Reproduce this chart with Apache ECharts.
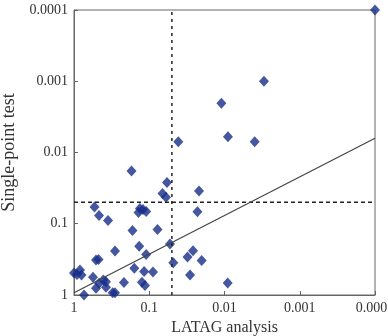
<!DOCTYPE html>
<html><head><meta charset="utf-8">
<script src="https://cdn.jsdelivr.net/npm/echarts@6/dist/echarts.min.js"></script>
<style>html,body{margin:0;padding:0;background:#fff}#c{width:388px;height:336px}</style>
</head><body><div id="c"></div>
<script>
// LATAG analysis p-values (x) and single-point test p-values (y)
const latagP = [0.0001,0.00299,0.0110,0.0090,0.00397,0.0411,0.172,0.0581,0.0667,0.0599,
  0.0218,0.0229,0.534,0.465,0.353,0.133,0.121,0.139,0.110,0.167,
  0.0777,0.285,0.136,0.110,0.053,0.0479,0.510,0.472,0.158,0.117,
  0.0892,0.031,0.0262,0.0201,0.0287,0.00907,1.0,0.832,0.795,0.912,
  0.559,0.408,0.376,0.465,0.217,0.125,0.114,0.510,0.376,0.306,
  0.285,0.736];
const singlePointP = [0.0001,0.001,0.00204,0.0060,0.00705,0.00705,0.0182,0.0264,0.0376,0.0426,
  0.0347,0.0678,0.0582,0.0766,0.090,0.0611,0.0631,0.0695,0.0673,0.124,
  0.120,0.241,0.207,0.270,0.192,0.352,0.323,0.318,0.422,0.468,
  0.475,0.293,0.239,0.328,0.524,0.679,0.491,0.446,0.524,0.515,
  0.565,0.616,0.650,0.685,0.668,0.663,0.736,0.805,0.780,0.929,
  0.929,1.0];
// regression line end points
const fitX = [1, 0.0001];
const fitY = [0.93, 0.0063];
// threshold (dashed) lines
const threshold = 0.05;
const axisMin = 0.0001, axisMax = 1;
const tickValues = [1, 0.1, 0.01, 0.001, 0.0001];
const tickLabels = ['1', '0.1', '0.01', '0.001', '0.0001'];

function fmt(v){
  let best = 0, bd = Infinity;
  tickValues.forEach((t,i)=>{const d=Math.abs(Math.log10(v)-Math.log10(t)); if(d<bd){bd=d;best=i;}});
  return bd < 0.01 ? tickLabels[best] : '';
}
const font = 'Liberation Serif';
const axisCommon = {
  type: 'log', logBase: 10, min: axisMin, max: axisMax, inverse: true,
  nameLocation: 'middle',
  nameTextStyle: {fontFamily: font, fontSize: 16, color: '#333'},
  axisLine: {show: true, lineStyle: {color: '#666', width: 1}},
  axisTick: {show: true, inside: true, length: 4, lineStyle: {color: '#666'}},
  minorTick: {show: false},
  splitLine: {show: false},
  axisLabel: {fontFamily: font, fontSize: 14, color: '#333', formatter: fmt, margin: 6, showMinLabel: true, showMaxLabel: true, hideOverlap: false}
};
const chart = echarts.init(document.getElementById('c'), null, {renderer: 'canvas'});
chart.setOption({
  animation: false,
  backgroundColor: '#fff',
  grid: {left: 74, right: 13, top: 10, bottom: 41, show: true, borderColor: '#666', borderWidth: 1,
         containLabel: false, outerBoundsMode: 'none'},
  xAxis: Object.assign({}, axisCommon, {name: 'LATAG analysis', nameGap: 17}),
  yAxis: Object.assign({}, axisCommon, {name: 'Single-point test', nameGap: 39,
    nameTextStyle: {fontFamily: font, fontSize: 18, color: '#333'}}),
  series: [
    {type: 'line', data: [[threshold, axisMax], [threshold, axisMin]], symbol: 'none', silent: true,
     lineStyle: {color: '#222', width: 1.5, type: [3, 4]}},
    {type: 'line', data: [[axisMax, threshold], [axisMin, threshold]], symbol: 'none', silent: true,
     lineStyle: {color: '#222', width: 1.5, type: [4, 3]}},
    {type: 'line', data: fitX.map((x,i)=>[x, fitY[i]]), symbol: 'none', silent: true,
     lineStyle: {color: '#444', width: 1.2}},
    {type: 'scatter', data: latagP.map((x,i)=>[x, singlePointP[i]]), symbol: 'diamond', symbolSize: [10, 11],
     clip: false, itemStyle: {color: '#172d87'}}
  ]
});
</script></body></html>
